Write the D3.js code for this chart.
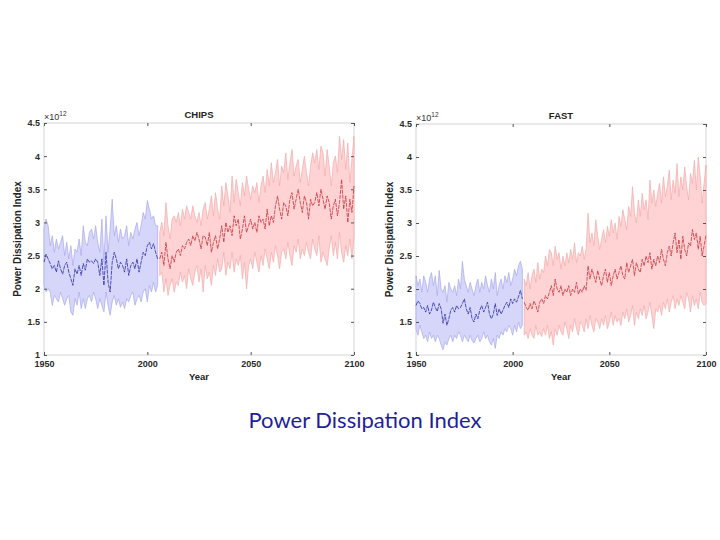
<!DOCTYPE html>
<html>
<head>
<meta charset="utf-8">
<script src="https://cdn.jsdelivr.net/npm/d3@7"></script>
<style>
  body { margin: 0; background: #fff; }
  svg { display: block; }
  .tick text { font-family: "Liberation Sans", Arial, sans-serif; font-weight: bold; font-size: 9px; fill: #2b2b2b; }
</style>
</head>
<body>
<svg id="chart" width="720" height="540"></svg>
<script>
// historical 1950-2005, projection 2006-2100 (values x 1e12)
const histYears = d3.range(1950, 2006);
const projYears = d3.range(2006, 2101);

const chipsHistMean = [2.40,2.52,2.45,2.38,2.30,2.35,2.25,2.42,2.30,2.22,
  2.35,2.40,2.25,2.15,2.05,2.30,2.22,2.35,2.20,2.38,
  2.28,2.45,2.40,2.42,2.38,2.45,2.40,2.20,2.45,2.05,
  2.55,2.10,1.95,2.40,2.55,2.45,2.30,2.40,2.35,2.25,
  2.45,2.20,2.35,2.40,2.30,2.45,2.25,2.40,2.55,2.50,
  2.65,2.70,2.60,2.68,2.55,2.45];
const chipsHistHi = [2.90,3.05,2.95,2.65,2.80,2.55,2.75,2.60,2.70,2.80,
  2.50,2.70,2.45,2.65,2.35,2.60,2.55,2.75,2.50,2.95,
  2.70,2.65,2.85,2.90,2.75,2.95,2.70,2.55,3.05,2.40,
  3.10,2.55,2.90,3.35,2.80,2.95,2.70,2.90,2.75,2.80,
  2.95,2.65,2.85,2.75,2.90,3.00,2.80,2.95,3.15,3.05,
  3.33,3.20,3.05,3.10,2.95,2.95];
const chipsHistLo = [2.05,1.95,2.00,1.95,1.75,1.90,1.85,1.80,1.95,1.85,
  1.75,1.85,1.90,1.65,1.60,1.85,1.75,1.95,1.70,1.85,
  1.70,1.85,1.90,1.80,1.95,1.85,1.70,1.85,1.75,1.65,
  1.95,1.75,1.60,1.80,1.90,1.75,1.85,1.72,1.80,1.70,
  1.85,1.80,1.90,1.95,1.75,1.85,1.90,1.80,1.95,2.00,
  1.80,2.05,1.95,2.10,1.95,2.05];

const chipsProjMean = [2.45,2.55,2.35,2.70,2.45,2.30,2.50,2.40,2.55,2.60,
  2.50,2.65,2.60,2.70,2.75,2.65,2.80,2.72,2.85,2.75,
  2.60,2.80,2.78,2.65,2.85,2.55,2.70,2.80,2.60,2.75,
  2.95,2.70,3.00,2.85,2.95,2.80,3.10,2.95,3.05,2.75,
  2.90,3.10,2.85,2.95,3.05,2.90,3.00,2.85,3.10,3.00,
  3.05,2.90,3.20,2.95,3.10,3.00,3.25,3.40,3.20,3.05,
  3.30,3.25,3.10,3.35,3.45,3.20,3.35,3.50,3.30,3.15,
  3.40,3.30,3.05,3.35,3.25,3.30,3.45,3.25,3.50,3.35,
  3.20,3.40,3.30,3.05,3.25,3.35,3.10,3.30,3.65,3.20,
  3.40,3.00,3.35,3.15,3.55];
const chipsProjHi = [2.85,3.00,2.80,3.30,2.95,2.75,3.05,3.10,3.00,3.15,
  2.95,3.20,3.05,3.25,3.15,3.05,3.25,3.10,3.00,3.15,
  2.95,3.20,3.30,3.05,3.20,3.40,3.10,3.45,3.20,3.05,
  3.55,3.25,3.60,3.40,3.15,3.70,3.30,3.65,3.45,3.25,
  3.60,3.40,3.70,3.50,3.35,3.55,3.45,3.60,3.30,3.55,
  3.70,3.45,3.80,3.55,3.90,3.60,3.75,3.95,3.55,3.85,
  3.75,4.05,3.65,3.90,4.10,3.70,3.85,3.95,3.60,3.80,
  4.00,3.75,3.55,3.85,4.05,3.90,4.10,3.80,4.15,4.05,
  3.70,4.10,3.85,3.55,3.90,4.00,3.75,4.30,3.95,4.25,
  3.80,4.20,3.60,3.95,4.30];
const chipsProjLo = [2.20,2.25,1.95,2.15,1.90,2.05,2.15,1.95,2.10,2.05,
  2.25,2.10,2.20,2.00,2.30,2.15,2.05,2.25,2.35,2.10,
  2.30,1.95,2.35,2.15,2.25,2.05,2.35,2.20,2.45,2.25,
  2.30,2.55,2.20,2.40,2.30,2.55,2.25,2.45,2.35,2.50,
  2.15,2.40,2.00,2.35,2.45,2.30,2.55,2.40,2.25,2.50,
  2.35,2.60,2.45,2.30,2.55,2.40,2.65,2.50,2.30,2.55,
  2.60,2.45,2.70,2.50,2.35,2.65,2.55,2.75,2.45,2.60,
  2.50,2.70,2.55,2.45,2.75,2.60,2.50,2.80,2.40,2.55,
  2.45,2.35,2.60,2.80,2.50,2.70,2.45,2.85,2.55,2.40,
  2.65,2.50,2.75,2.45,2.80];

const fastHistMean = [1.75,1.82,1.78,1.70,1.72,1.65,1.75,1.62,1.68,1.80,
  1.72,1.66,1.78,1.70,1.48,1.62,1.45,1.55,1.68,1.72,
  1.65,1.75,1.70,1.72,1.78,1.85,1.70,1.62,1.72,1.55,
  1.50,1.62,1.55,1.68,1.75,1.65,1.72,1.80,1.62,1.55,
  1.62,1.78,1.60,1.70,1.62,1.68,1.75,1.80,1.72,1.85,
  1.78,1.85,1.80,1.88,1.98,1.85];
const fastHistHi = [2.20,2.05,2.15,1.95,2.20,2.10,1.95,2.15,2.25,2.05,
  2.20,1.90,2.28,2.00,1.95,2.05,1.80,2.10,2.00,1.95,
  2.05,1.90,2.15,2.00,2.42,2.15,2.05,1.95,2.10,2.00,
  1.90,2.05,2.15,1.95,2.10,2.00,2.20,2.05,1.95,2.15,
  2.00,2.25,1.90,2.05,2.15,2.00,2.20,2.10,2.25,2.05,
  2.15,2.30,2.20,2.35,2.42,2.30];
const fastHistLo = [1.40,1.30,1.45,1.35,1.25,1.30,1.20,1.35,1.25,1.30,
  1.20,1.30,1.25,1.15,1.08,1.20,1.15,1.25,1.30,1.20,
  1.30,1.25,1.35,1.30,1.20,1.30,1.25,1.20,1.30,1.22,
  1.18,1.25,1.30,1.20,1.25,1.35,1.25,1.30,1.20,1.15,
  1.25,1.10,1.30,1.25,1.35,1.30,1.40,1.35,1.45,1.40,
  1.30,1.45,1.35,1.50,1.40,1.45];

const fastProjMean = [1.80,1.72,1.68,1.78,1.70,1.82,1.75,1.65,1.80,1.85,
  1.78,1.90,1.85,1.95,2.05,1.90,2.15,2.00,1.95,2.05,
  1.90,2.00,1.95,2.05,1.90,2.00,1.95,2.10,1.92,2.00,
  1.95,2.05,1.98,2.35,2.15,2.30,2.20,2.10,2.28,2.15,
  2.05,2.20,2.30,2.10,2.25,2.05,2.20,2.30,2.15,2.25,
  2.35,2.20,2.15,2.40,2.25,2.35,2.45,2.20,2.40,2.30,
  2.25,2.45,2.35,2.50,2.40,2.55,2.30,2.45,2.35,2.50,
  2.40,2.60,2.45,2.35,2.55,2.65,2.50,2.70,2.85,2.55,
  2.75,2.45,2.80,2.60,2.50,2.70,2.65,2.90,2.75,2.85,
  2.60,2.80,2.50,2.65,2.82];
const fastProjHi = [2.15,2.05,2.25,2.00,2.20,2.30,2.10,2.40,2.15,2.30,
  2.25,2.50,2.35,2.60,2.55,2.35,2.65,2.45,2.55,2.30,
  2.50,2.35,2.55,2.40,2.60,2.45,2.70,2.40,2.55,2.50,
  2.65,2.45,2.60,3.15,2.70,2.85,2.65,3.05,2.80,2.60,
  2.75,2.90,2.70,2.95,2.80,3.05,2.85,3.00,2.75,3.10,
  2.95,3.20,3.05,2.90,3.25,3.10,3.55,3.15,3.00,3.35,
  3.10,3.45,3.20,3.35,3.05,3.65,3.30,3.50,3.25,3.45,
  3.60,3.30,3.70,3.40,3.55,3.80,3.35,3.65,3.45,3.90,
  3.40,3.70,3.50,3.85,3.55,3.35,3.75,3.60,3.95,3.50,
  4.00,3.70,3.30,3.60,3.88];
const fastProjLo = [1.30,1.35,1.25,1.40,1.30,1.25,1.45,1.30,1.35,1.28,
  1.40,1.30,1.45,1.25,1.35,1.15,1.40,1.30,1.45,1.35,
  1.30,1.50,1.40,1.25,1.45,1.35,1.55,1.40,1.30,1.50,
  1.45,1.35,1.55,1.40,1.60,1.45,1.35,1.55,1.50,1.40,
  1.55,1.45,1.60,1.40,1.50,1.65,1.45,1.60,1.50,1.55,
  1.45,1.65,1.55,1.70,1.50,1.60,1.75,1.45,1.65,1.55,
  1.70,1.60,1.75,1.55,1.65,1.80,1.60,1.40,1.70,1.65,
  1.75,1.60,1.80,1.70,1.85,1.65,1.80,1.90,1.70,1.85,
  1.75,1.90,1.80,1.70,1.95,1.85,1.65,1.90,1.75,1.85,
  1.70,1.95,1.80,1.75,1.78];

const xTicks = [1950, 2000, 2050, 2100];
const yTicks = [1, 1.5, 2, 2.5, 3, 3.5, 4, 4.5];

const svg = d3.select("#chart");
const font = '"Liberation Sans", Arial, sans-serif';

function panel(title, left, right, top, bottom, hist, proj) {
  const x = d3.scaleLinear().domain([1950, 2100]).range([left, right]);
  const y = d3.scaleLinear().domain([1, 4.5]).range([bottom, top]);
  const g = svg.append("g");

  // box
  g.append("rect").attr("x", left).attr("y", top)
    .attr("width", right - left).attr("height", bottom - top)
    .attr("fill", "#fff").attr("stroke", "#d4d4d4").attr("stroke-width", 1);

  function band(years, hi, lo, mean, fill, edge, line) {
    const rows = years.map((yr, i) => ({ yr, hi: hi[i], lo: lo[i], m: mean[i] }));
    const area = d3.area().x(d => x(d.yr)).y0(d => y(d.lo)).y1(d => y(d.hi));
    g.append("path").datum(rows).attr("d", area)
      .attr("fill", fill).attr("stroke", edge).attr("stroke-width", 0.7);
    g.append("path").datum(rows)
      .attr("d", d3.line().x(d => x(d.yr)).y(d => y(d.m)))
      .attr("fill", "none").attr("stroke", line).attr("stroke-width", 0.8)
      .attr("stroke-dasharray", "4,1");
  }
  band(histYears, hist.hi, hist.lo, hist.mean, "#d6d6fb", "#a8a8ec", "#2b2ba8");
  band(projYears, proj.hi, proj.lo, proj.mean, "#ffd3d3", "#f2aaaa", "#c8323c");

  // axes
  g.append("g").attr("transform", `translate(0,${bottom})`)
    .call(d3.axisBottom(x).tickValues(xTicks).tickFormat(d3.format("d")).tickSizeInner(-3).tickSizeOuter(0).tickPadding(6));
  g.append("g").attr("transform", `translate(${left},0)`)
    .call(d3.axisLeft(y).tickValues(yTicks).tickFormat(d => d).tickSizeInner(-3).tickSizeOuter(0).tickPadding(4));
  g.append("g").attr("transform", `translate(0,${top})`)
    .call(d3.axisTop(x).tickValues(xTicks).tickFormat("").tickSizeInner(-3).tickSizeOuter(0));
  g.append("g").attr("transform", `translate(${right},0)`)
    .call(d3.axisRight(y).tickValues(yTicks).tickFormat("").tickSizeInner(-3).tickSizeOuter(0));
  g.selectAll(".domain").remove();
  g.selectAll(".tick line").attr("stroke", "#555");

  g.append("text").attr("x", (left + right) / 2).attr("y", top - 5)
    .attr("text-anchor", "middle").attr("font-family", font).attr("font-weight", "bold")
    .attr("font-size", 9.5).attr("fill", "#222").text(title);
  g.append("text").attr("x", (left + right) / 2).attr("y", bottom + 25)
    .attr("text-anchor", "middle").attr("font-family", font).attr("font-weight", "bold")
    .attr("font-size", 9.5).attr("fill", "#222").text("Year");
  g.append("text").attr("transform", `translate(${left - 23},${(top + bottom) / 2}) rotate(-90)`)
    .attr("text-anchor", "middle").attr("font-family", font).attr("font-weight", "bold")
    .attr("font-size", 10).attr("fill", "#222").text("Power Dissipation Index");
  const exp = g.append("text").attr("x", left).attr("y", top - 3)
    .attr("font-family", font).attr("font-size", 9).attr("fill", "#333");
  exp.append("tspan").text("\u00d710");
  exp.append("tspan").attr("dy", -4).attr("font-size", 6.5).text("12");
}

panel("CHIPS", 44, 354, 123, 355,
  { mean: chipsHistMean, hi: chipsHistHi, lo: chipsHistLo },
  { mean: chipsProjMean, hi: chipsProjHi, lo: chipsProjLo });
panel("FAST", 416, 706, 124, 355,
  { mean: fastHistMean, hi: fastHistHi, lo: fastHistLo },
  { mean: fastProjMean, hi: fastProjHi, lo: fastProjLo });

svg.append("text").attr("x", 365).attr("y", 428).attr("text-anchor", "middle")
  .attr("font-family", "Lato, 'Open Sans', sans-serif").attr("font-size", 22)
  .attr("fill", "#1f1f9a").text("Power Dissipation Index");
</script>
</body>
</html>
